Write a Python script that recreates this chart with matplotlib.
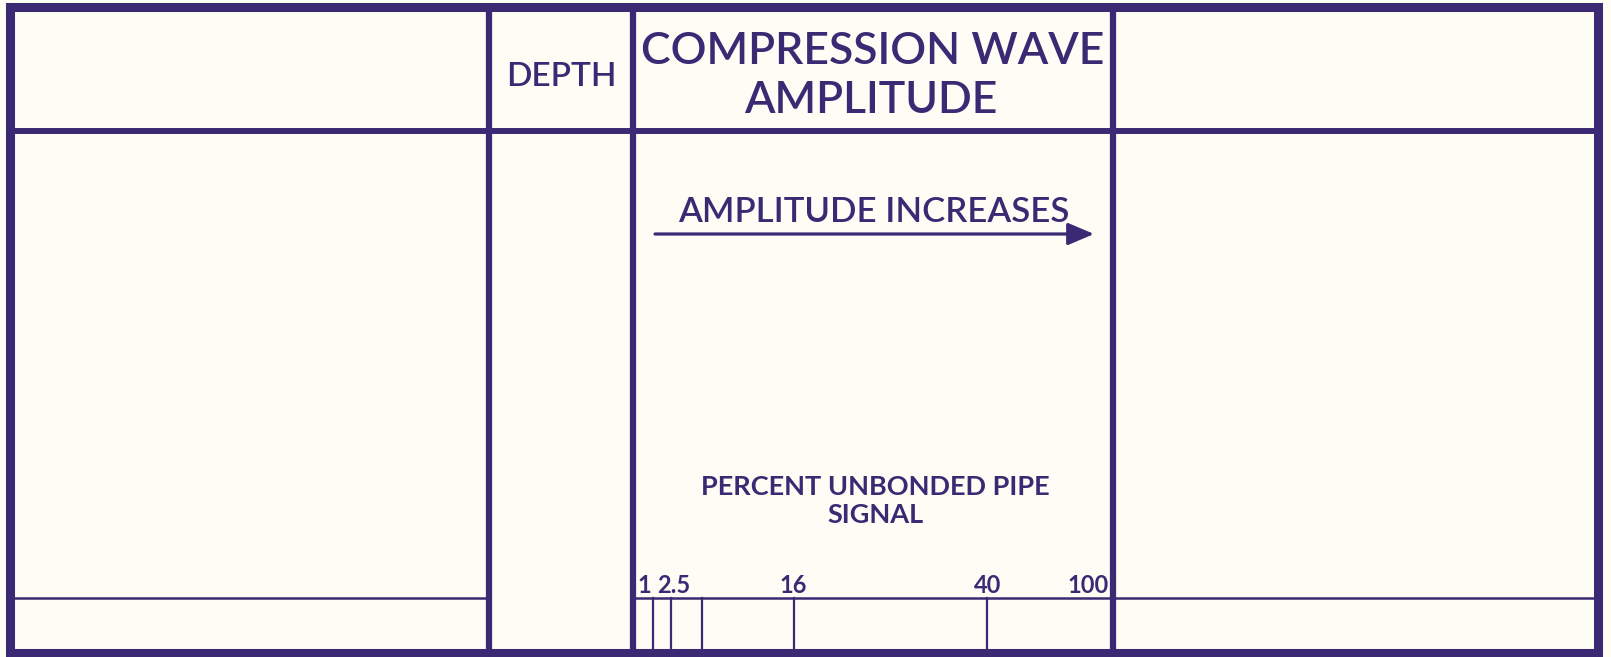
import matplotlib.pyplot as plt
from matplotlib.patches import FancyArrowPatch

# sheet layout in pixels of the scanned form (x to the right, y downwards)
W, H = 1611, 657
ink = "#3b2a73"
paper = "#fdfdf6"

col_edges = [10, 489, 633, 1113, 1598]   # vertical rules
row_edges = [7, 131, 598, 653]           # horizontal rules

headers = ["", "DEPTH", "COMPRESSION WAVE", ""]
header_sizes = [0, 24, 32, 0]
header_base = [0, 86, 64, 0]
sub_header = "AMPLITUDE"

# columns that carry the thin scale rule at the bottom
scale_row_cols = [0, 2, 3]

# percent unbonded pipe signal scale, positions as % of track width
scale_labels = ["1", "2.5", "16", "40", "100"]
scale_label_pos = [2.3, 8.4, 33.4, 73.8, 100]
scale_tick_pos = [4.2, 7.9, 14.4, 33.5, 73.7]

plt.rcParams['font.family'] = ['Lato', 'DejaVu Sans']

fig = plt.figure(figsize=(W / 100, H / 100), dpi=100, facecolor=paper)
ax = fig.add_axes([0, 0, 1, 1])
ax.set_xlim(0, W)
ax.set_ylim(H, 0)
ax.axis("off")

x0, x1 = col_edges[0], col_edges[-1]
y0, y1 = row_edges[0], row_edges[-1]

# outer frame
ax.plot([x0, x1, x1, x0, x0], [y0, y0, y1, y1, y0], color=ink, lw=6.5,
        solid_joinstyle="miter", solid_capstyle="projecting")
# column rules
for x in col_edges[1:-1]:
    ax.plot([x, x], [y0, y1], color=ink, lw=4.5)
# header rule
ax.plot([x0, x1], [row_edges[1], row_edges[1]], color=ink, lw=4.3)
# scale row rule (not in depth track)
for i in scale_row_cols:
    ax.plot([col_edges[i], col_edges[i + 1]], [row_edges[2], row_edges[2]],
            color=ink, lw=1.8)

# headers
for i, txt in enumerate(headers):
    if not txt:
        continue
    cx = (col_edges[i] + col_edges[i + 1]) / 2
    ax.text(cx, header_base[i], txt, color=ink, fontsize=header_sizes[i],
            ha="center", va="baseline", fontweight="semibold")
cx = (col_edges[2] + col_edges[3]) / 2
ax.text(cx - 2, 113, sub_header, color=ink, fontsize=header_sizes[2],
        ha="center", va="baseline", fontweight="semibold")

# amplitude track
tl, tr = col_edges[2], col_edges[3]
tw = tr - tl
tc = (tl + tr) / 2
ax.text(tc + 1, 222, "AMPLITUDE INCREASES", color=ink, fontsize=25,
        ha="center", va="baseline", fontweight="semibold")
arrow = FancyArrowPatch((655, 234), (1094, 234),
                        arrowstyle="-|>,head_length=0.8,head_width=0.34",
                        mutation_scale=20, color=ink, lw=2.3,
                        shrinkA=0, shrinkB=0)
ax.add_patch(arrow)

ax.text(tc + 2, 495, "PERCENT UNBONDED PIPE", color=ink,
        fontsize=19.5, ha="center", va="baseline", fontweight="bold")
ax.text(tc + 2, 523, "SIGNAL", color=ink,
        fontsize=19.5, ha="center", va="baseline", fontweight="bold")

for p in scale_tick_pos:
    x = tl + tw * p / 100
    ax.plot([x, x], [row_edges[2], row_edges[3]], color=ink, lw=1.6)

for lab, p in zip(scale_labels, scale_label_pos):
    x = tl + tw * p / 100
    ha = "right" if p >= 100 else "center"
    if p >= 100:
        x -= 4
    ax.text(x, 593, lab, color=ink, fontsize=17, ha=ha, va="baseline",
            fontweight="bold")

fig.savefig("out.png", dpi=100, facecolor=paper)
